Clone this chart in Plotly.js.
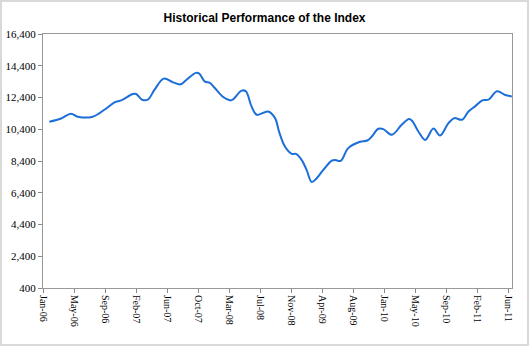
<!DOCTYPE html>
<html>
<head>
<meta charset="utf-8">
<script src="https://cdn.plot.ly/plotly-3.0.1.min.js"></script>
<style>
html,body{margin:0;padding:0;background:#fff;}
#wrap{width:529px;height:346px;box-sizing:border-box;border:2px solid #d9d9d9;position:relative;}
#chart{width:525px;height:342px;}
</style>
</head>
<body>
<div id="wrap"><div id="chart"></div></div>
<script>
const dates = ["2006-01-28","2006-03-19","2006-04-30","2006-05-29","2006-07-31","2006-09-19","2006-11-01","2006-11-29",
"2007-01-18","2007-02-01","2007-02-26","2007-03-22","2007-04-20","2007-05-29","2007-07-08","2007-08-08","2007-09-03",
"2007-10-13","2007-10-27","2007-11-20","2007-12-11","2008-01-01","2008-02-06","2008-03-05","2008-03-17","2008-04-24",
"2008-05-12","2008-06-05","2008-06-27","2008-08-15","2008-09-13","2008-10-01","2008-10-25","2008-11-23","2008-12-11",
"2009-01-04","2009-01-25","2009-02-16","2009-03-09","2009-04-06","2009-05-12","2009-05-26","2009-06-19","2009-07-21",
"2009-09-09","2009-10-10","2009-10-29","2009-11-26","2009-12-17","2010-01-22","2010-03-05","2010-04-05","2010-04-17",
"2010-05-15","2010-06-13","2010-07-18","2010-08-15","2010-09-20","2010-10-15","2010-11-16","2010-12-14","2011-01-11",
"2011-02-11","2011-03-09","2011-04-14","2011-05-19","2011-06-16"];
const values = [10870,11080,11380,11190,11190,11630,12090,12220,
12620,12620,12260,12260,12890,13590,13350,13230,13520,
13950,13900,13400,13320,13000,12430,12220,12260,12830,
12790,11840,11310,11520,11100,10200,9310,8850,8850,
8470,7840,7080,7310,7840,8420,8470,8410,9210,
9610,9690,9940,10430,10410,10050,10680,11040,10950,
10260,9730,10450,10000,10790,11100,11000,11520,11840,
12220,12260,12790,12560,12470];
const tickLabels = ["Jan-06","May-06","Sep-06","Feb-07","Jun-07","Oct-07","Mar-08","Jul-08",
"Nov-08","Apr-09","Aug-09","Jan-10","May-10","Sep-10","Feb-11","Jun-11"];
const yTicks = [400,2400,4400,6400,8400,10400,12400,14400,16400];

const firstTick = Date.parse("2006-01-01T00:00:00Z");
const lastTick = Date.parse("2011-06-01T00:00:00Z");
const step = (lastTick - firstTick) / (tickLabels.length - 1);
const tickvals = tickLabels.map((_, i) => new Date(firstTick + i * step).toISOString().slice(0, 19).replace("T", " "));
const xEnd = new Date(lastTick + step * 0.12).toISOString().slice(0, 19).replace("T", " ");

const trace = {
  x: dates, y: values, type: "scatter", mode: "lines",
  line: {color: "#1c6fd8", width: 2, shape: "spline", smoothing: 1},
  hoverinfo: "skip"
};
const layout = {
  width: 525, height: 342,
  margin: {l: 41, r: 15, t: 32, b: 56, pad: 0},
  paper_bgcolor: "#fff", plot_bgcolor: "#fff",
  showlegend: false,
  title: {text: "<b>Historical Performance of the Index</b>", x: 0.5, xanchor: "center", y: 0.955, yanchor: "middle",
    font: {family: "Liberation Sans, Arial, sans-serif", size: 12, color: "#000"}},
  xaxis: {
    type: "date", range: ["2006-01-01", xEnd],
    tickmode: "array", tickvals: tickvals, ticktext: tickLabels, tickangle: 90,
    ticks: "outside", ticklen: 4, tickcolor: "#888", tickwidth: 1,
    showline: true, linecolor: "#999", linewidth: 1, mirror: true,
    showgrid: false, zeroline: false,
    tickfont: {family: "Liberation Serif, Times New Roman, serif", size: 10, color: "#000"}
  },
  yaxis: {
    range: [400, 16400], tickmode: "array", tickvals: yTicks,
    ticktext: yTicks.map(v => v.toLocaleString("en-US")),
    ticks: "outside", ticklen: 4, tickcolor: "#888", tickwidth: 1,
    showline: true, linecolor: "#999", linewidth: 1, mirror: true,
    showgrid: false, zeroline: false,
    tickfont: {family: "Liberation Serif, Times New Roman, serif", size: 11, color: "#000"}
  }
};
Plotly.newPlot("chart", [trace], layout, {displayModeBar: false, staticPlot: true});
</script>
</body>
</html>
